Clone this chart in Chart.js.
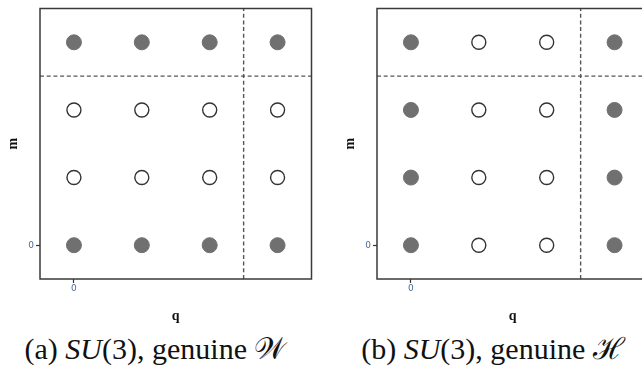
<!DOCTYPE html>
<html>
<head>
<meta charset="utf-8">
<script src="https://cdn.jsdelivr.net/npm/chart.js@4"></script>
<style>
  html, body { margin: 0; padding: 0; background: #fff; overflow: hidden; width: 642px; height: 373px; }
  .panel { position: absolute; top: 0; }
  .caption { position: absolute; top: 334px; height: 30px; line-height: 30px; text-align: center; font-family: "Liberation Serif", "DejaVu Serif", serif; font-size: 30px; color: #111; white-space: nowrap; }
  .caption i { font-style: italic; }
  .caption span { display: inline-block; line-height: 30px; }
</style>
</head>
<body>
<div class="panel" style="left:0px"><canvas id="chart-w" width="320" height="330"></canvas></div>
<div class="panel" style="left:337px"><canvas id="chart-h" width="320" height="330"></canvas></div>
<div class="caption" style="left:0px;width:310px">(a) <i>SU</i>(3), genuine <span>𝒲</span></div>
<div class="caption" style="left:336px;width:314px">(b) <i>SU</i>(3), genuine <span>ℋ</span></div>
<script>
// lattice coordinates
const q_values = [0, 1, 2, 3];
const m_values = [0, 1, 2, 3];

// 1 = filled (grey) point, 0 = open point; rows are m = 0..3
const genuine_w = [
	[1, 1, 1, 1],
	[0, 0, 0, 0],
	[0, 0, 0, 0],
	[1, 1, 1, 1]
];
const genuine_h = [
	[1, 0, 0, 1],
	[1, 0, 0, 1],
	[1, 0, 0, 1],
	[1, 0, 0, 1]
];

// dashed cut lines and axis range
const cut_q = 2.5;
const cut_m = 2.5;
const axis_min = -0.5;
const axis_max = 3.5;
const tick_values = [0];

const filled_color = '#707070';
const open_border = '#333333';
const frame_color = '#3a3a3a';

function split_points(grid, want){
	const pts = [];
	m_values.forEach(function(m, i){
		q_values.forEach(function(q, j){
			if(grid[i][j] === want) pts.push({x: q, y: m});
		});
	});
	return pts;
}

const frame_plugin = {
	id: 'frame',
	afterDraw: function(chart){
		const a = chart.chartArea;
		const ctx = chart.ctx;
		ctx.save();
		ctx.strokeStyle = frame_color;
		ctx.lineWidth = 1.5;
		ctx.strokeRect(a.left, a.top, a.right - a.left, a.bottom - a.top);
		ctx.restore();
	}
};

function axis_opts(title, is_x){
	return {
		type: 'linear',
		min: axis_min,
		max: axis_max,
		afterBuildTicks: function(scale){
			scale.ticks = tick_values.map(function(v){ return {value: v}; });
		},
		afterFit: function(scale){
			if(is_x) scale.height = 51;
			else scale.width = 40;
		},
		ticks: {
			font: {family: 'DejaVu Sans', size: 9},
			color: '#4a6a9a',
			padding: is_x ? 0 : 2,
			maxRotation: 0
		},
		grid: {
			display: true,
			drawOnChartArea: false,
			drawTicks: true,
			tickLength: 4,
			tickColor: '#333',
			tickWidth: 1.2
		},
		border: {display: false},
		title: {
			display: true,
			text: title,
			color: '#111',
			font: {family: 'Liberation Serif', size: 14, weight: 'bold'},
			padding: is_x ? {top: 0, bottom: 5} : {top: 5, bottom: 0}
		}
	};
}

function create_chart(id, grid){
	const ctx = document.getElementById(id).getContext('2d');
	const cut_style = {
		type: 'line',
		showLine: true,
		borderColor: '#555',
		borderWidth: 1.4,
		borderDash: [4, 2.7],
		pointRadius: 0,
		fill: false
	};
	const data = {
		datasets: [
			Object.assign({label: 'cut m', data: [{x: axis_min, y: cut_m}, {x: axis_max, y: cut_m}]}, cut_style),
			Object.assign({label: 'cut q', data: [{x: cut_q, y: axis_min}, {x: cut_q, y: axis_max}]}, cut_style),
			{
				label: 'filled',
				data: split_points(grid, 1),
				pointRadius: 7.5,
				pointBackgroundColor: filled_color,
				pointBorderColor: filled_color,
				pointBorderWidth: 1
			},
			{
				label: 'open',
				data: split_points(grid, 0),
				pointRadius: 7,
				pointBackgroundColor: '#fff',
				pointBorderColor: open_border,
				pointBorderWidth: 1.4
			}
		]
	};
	return new Chart(ctx, {
		type: 'scatter',
		data: data,
		options: {
			responsive: false,
			animation: false,
			layout: {padding: {top: 5, right: 7, left: 0, bottom: 0}},
			plugins: {
				legend: {display: false},
				tooltip: {enabled: false}
			},
			scales: {
				x: axis_opts('q', true),
				y: axis_opts('m', false)
			}
		},
		plugins: [frame_plugin]
	});
}

create_chart('chart-w', genuine_w);
create_chart('chart-h', genuine_h);
</script>
</body>
</html>
